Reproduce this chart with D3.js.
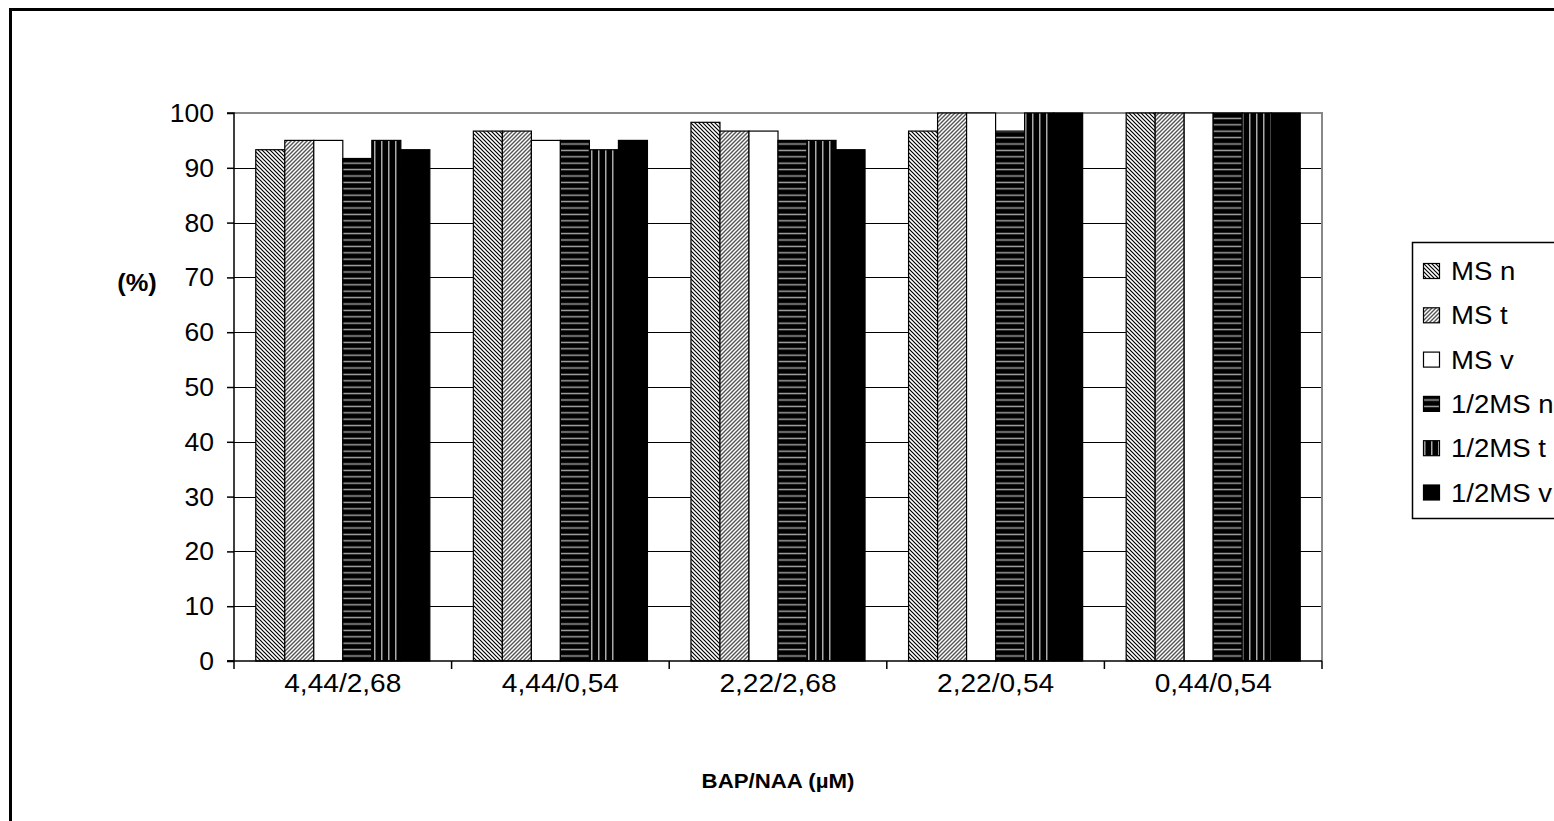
<!DOCTYPE html>
<html>
<head>
<meta charset="utf-8">
<script src="https://cdn.jsdelivr.net/npm/d3@7/dist/d3.min.js"></script>
<style>
  html, body { margin: 0; padding: 0; background: #fff; }
  svg { display: block; font-family: "Liberation Sans", Arial, sans-serif; }
</style>
</head>
<body>
<svg id="chart" width="1554" height="821"></svg>
<script>
const categories = ["4,44/2,68", "4,44/0,54", "2,22/2,68", "2,22/0,54", "0,44/0,54"];
const seriesNames = ["MS n", "MS t", "MS v", "1/2MS n", "1/2MS t", "1/2MS v"];
const msN    = [93.3, 96.7, 98.3, 96.7, 100];
const msT    = [95.0, 96.7, 96.7, 100, 100];
const msV    = [95.0, 95.0, 96.7, 100, 100];
const halfN  = [91.7, 95.0, 95.0, 96.7, 100];
const halfT  = [95.0, 93.3, 95.0, 100, 100];
const halfV  = [93.3, 95.0, 93.3, 100, 100];
const seriesValues = [msN, msT, msV, halfN, halfT, halfV];
const yTicks = [0, 10, 20, 30, 40, 50, 60, 70, 80, 90, 100];
const yTitle = "(%)";
const xTitle = "BAP/NAA (µM)";

(function () {
const svg = d3.select("#chart");
const defs = svg.append("defs");
const FS = 25, SX = 1.06;

function pat(id, w, h, draw) {
  const p = defs.append("pattern").attr("id", id).attr("patternUnits", "userSpaceOnUse")
    .attr("width", w).attr("height", h);
  draw(p);
}
pat("pMSn", 4, 4, p => {
  p.append("rect").attr("width", 4).attr("height", 4).attr("fill", "#fff");
  p.append("path").attr("d", "M-1,-1 L5,5 M-1,3 L1,5 M3,-1 L5,1").attr("stroke", "#000").attr("stroke-width", 1.2);
});
pat("pMSt", 4, 4, p => {
  p.append("rect").attr("width", 4).attr("height", 4).attr("fill", "#fff");
  p.append("path").attr("d", "M-1,5 L5,-1 M-1,1 L1,-1 M3,5 L5,3").attr("stroke", "#555").attr("stroke-width", 1.4);
});
pat("pHalfN", 6.4, 6.4, p => {
  p.append("rect").attr("width", 6.4).attr("height", 6.4).attr("fill", "#000");
  p.append("rect").attr("y", 2.5).attr("width", 6.4).attr("height", 1.4).attr("fill", "#aaa");
});
pat("pHalfT", 7, 7, p => {
  p.append("rect").attr("width", 7).attr("height", 7).attr("fill", "#000");
  p.append("rect").attr("x", 3).attr("width", 1.5).attr("height", 7).attr("fill", "#aaa");
});
const fills = ["url(#pMSn)", "url(#pMSt)", "#fff", "url(#pHalfN)", "url(#pHalfT)", "#000"];

function txt(parent, x, y, s, anchor, bold, fs) {
  return parent.append("text")
    .attr("transform", `translate(${x},${y}) scale(${SX},1)`)
    .attr("text-anchor", anchor || "start")
    .attr("font-size", fs || FS)
    .attr("font-weight", bold ? "bold" : "normal")
    .attr("fill", "#000").text(s);
}

svg.append("rect").attr("x", 10.5).attr("y", 9.5).attr("width", 1600).attr("height", 900)
  .attr("fill", "none").attr("stroke", "#000").attr("stroke-width", 3);

const pl = 234, pr = 1322, pt = 113, pb = 661;
const x0 = d3.scaleBand().domain(categories).range([pl, pr]).paddingInner(0).paddingOuter(0);
const x1 = d3.scaleBand().domain(seriesNames).range([0, x0.bandwidth()]).paddingInner(0).paddingOuter(0.75);
const y = d3.scaleLinear().domain([0, 100]).range([pb, pt]);

svg.append("g").selectAll("line").data(yTicks.filter(t => t > 0 && t < 100)).join("line")
  .attr("x1", pl).attr("x2", pr)
  .attr("y1", d => Math.round(y(d)) + 0.5).attr("y2", d => Math.round(y(d)) + 0.5)
  .attr("stroke", "#000").attr("stroke-width", 1);

svg.append("path")
  .attr("d", `M${pl},${pt} L${pr},${pt} L${pr},${pb}`)
  .attr("fill", "none").attr("stroke", "#888").attr("stroke-width", 2);

const g = svg.append("g");
categories.forEach((c, ci) => {
  seriesNames.forEach((s, si) => {
    const v = seriesValues[si][ci];
    g.append("rect")
      .attr("x", x0(c) + x1(s))
      .attr("y", y(v))
      .attr("width", x1.bandwidth())
      .attr("height", y(0) - y(v))
      .attr("fill", fills[si])
      .attr("stroke", "#000").attr("stroke-width", 1.2);
  });
});

// y axis
const yAxis = d3.axisLeft(y).tickValues(yTicks).tickSize(7).tickFormat("");
const ya = svg.append("g").attr("transform", `translate(${pl},0)`).call(yAxis);
ya.select(".domain").attr("stroke", "#000").attr("stroke-width", 1.5).attr("d", `M-7,${pt}H0V${pb}H-7`);
ya.selectAll(".tick line").attr("stroke", "#000").attr("stroke-width", 1.5);
yTicks.forEach(t => txt(svg, 214, y(t) + 9, String(t), "end"));

// x axis
const xa = svg.append("g").attr("transform", `translate(0,${pb})`);
xa.append("line").attr("x1", pl - 7).attr("x2", pr).attr("y1", 0).attr("y2", 0)
  .attr("stroke", "#000").attr("stroke-width", 1.5);
const boundaries = categories.map(c => x0(c)).concat([pr]);
xa.selectAll("line.tk").data(boundaries).join("line").attr("class", "tk")
  .attr("x1", d => d).attr("x2", d => d).attr("y1", 0).attr("y2", 8)
  .attr("stroke", "#000").attr("stroke-width", 1.5);
categories.forEach(c => txt(svg, x0(c) + x0.bandwidth() / 2, 692, c, "middle", false, 26.5));

txt(svg, 137, 291, yTitle, "middle", true, 24);
txt(svg, (pl + pr) / 2, 788, xTitle, "middle", true, 21);

// legend
const lg = svg.append("g");
lg.append("rect").attr("x", 1412.5).attr("y", 242.5).attr("width", 200).attr("height", 276)
  .attr("fill", "#fff").attr("stroke", "#000").attr("stroke-width", 1.5);
seriesNames.forEach((s, i) => {
  const cy = 271 + i * 44.3;
  lg.append("rect").attr("x", 1423.5).attr("y", cy - 7.5).attr("width", 16).attr("height", 15)
    .attr("fill", fills[i]).attr("stroke", "#000").attr("stroke-width", 1.2);
  txt(lg, 1451, cy + 9, s, "start", false, 26);
});
})();
</script>
</body>
</html>
